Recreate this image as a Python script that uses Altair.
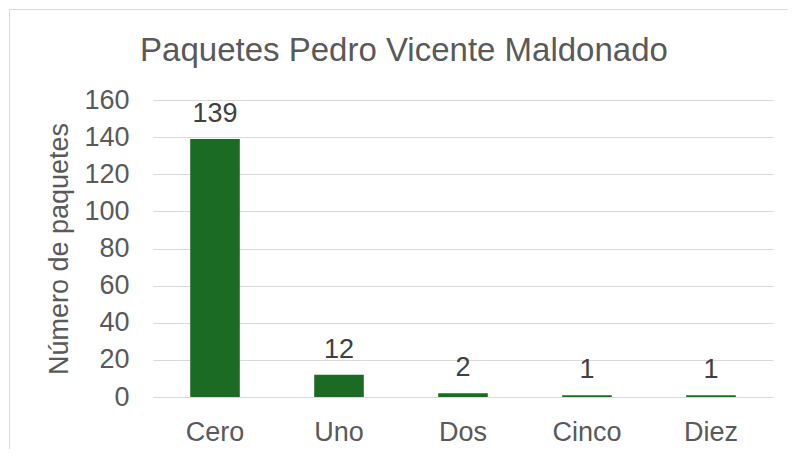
import altair as alt
import pandas as pd

title_text = "Paquetes Pedro Vicente Maldonado"
categories = ["Cero", "Uno", "Dos", "Cinco", "Diez"]
values = [139, 12, 2, 1, 1]
y_ticks = [0, 20, 40, 60, 80, 100, 120, 140, 160]

df = pd.DataFrame({"cat": categories, "val": values})
FONT = "Liberation Sans"

x = alt.X("cat:N", sort=categories, title=None,
          scale=alt.Scale(paddingInner=0.6, paddingOuter=0.3),
          axis=alt.Axis(labelAngle=0, labelFontSize=27, labelColor="#595959",
                        labelFont=FONT, ticks=False, tickSize=0, domain=False,
                        labelPadding=22, grid=False, labelOverlap=False))
y = alt.Y("val:Q", title="Número de paquetes",
          scale=alt.Scale(domain=[0, 160], nice=False),
          axis=alt.Axis(values=y_ticks, labelFontSize=27, labelColor="#595959",
                        labelFont=FONT, ticks=False, tickSize=0, domain=False,
                        labelPadding=24, grid=True, gridColor="#d9d9d9",
                        gridWidth=1, labelOverlap=False, titleFont=FONT,
                        titleFontSize=27, titleColor="#595959",
                        titleFontWeight="normal", titleAngle=-90,
                        titleAlign="center", titleBaseline="middle",
                        titleX=-94, titleY=148.5))

base = alt.Chart(df)

bars = base.mark_bar(color="#1b6b25").encode(x=x, y=y)
labels = base.mark_text(dy=-17, baseline="alphabetic", fontSize=27,
                        font=FONT, color="#404040").encode(
    x=x, y=y, text="val:Q")

one = pd.DataFrame({"t": [title_text]})
border = alt.Chart(one).mark_rect(
    fillOpacity=0, stroke="#d9d9d9", strokeWidth=1, width=1200, height=1000).encode(
    x=alt.value(-143.5 + 600), y=alt.value(-90.5 + 500))
title = alt.Chart(one).mark_text(
    fontSize=33, font=FONT, color="#595959", align="center",
    baseline="alphabetic").encode(
    text="t:N", x=alt.value(251), y=alt.value(-39))

chart = alt.layer(border, bars, labels, title).properties(
    width=620, height=297,
    background="white",
    autosize=alt.AutoSizeParams(type="none"),
    padding={"left": 145, "top": 92, "right": 15, "bottom": 52},
).configure_view(strokeWidth=0).configure_axis(labelOverlap=False)

chart.save("out.html", embed_options={"renderer": "svg", "actions": False})
